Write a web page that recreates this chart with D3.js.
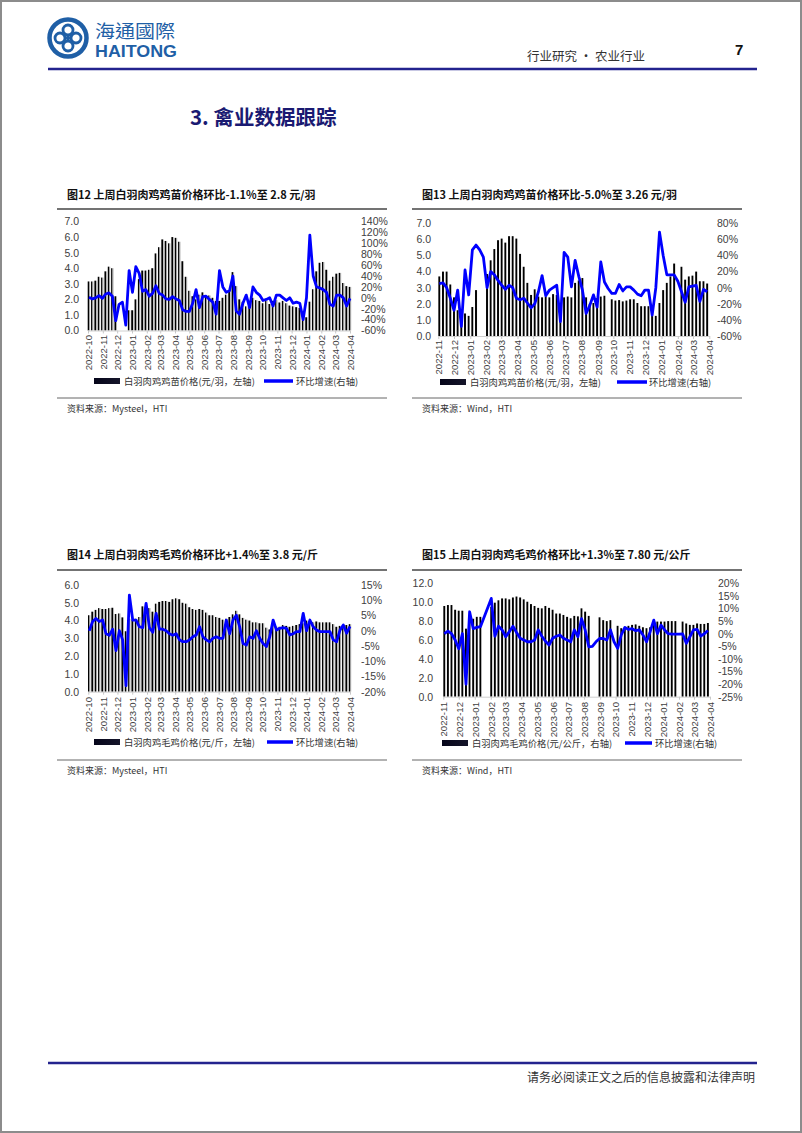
<!DOCTYPE html>
<html><head><meta charset="utf-8">
<script src="https://cdn.jsdelivr.net/npm/d3@7"></script>
<style>html,body{margin:0;padding:0;background:#fff;}svg{display:block;}</style>
</head><body>
<script>
// ---------- DATA ----------
const mysteelMonths = ["2022-10","2022-11","2022-12","2023-01","2023-02","2023-03","2023-04","2023-05","2023-06","2023-07","2023-08","2023-09","2023-10","2023-11","2023-12","2024-01","2024-02","2024-03","2024-04"];
const windMonths = ["2022-11","2022-12","2023-01","2023-02","2023-03","2023-04","2023-05","2023-06","2023-07","2023-08","2023-09","2023-10","2023-11","2023-12","2024-01","2024-02","2024-03","2024-04"];

// Fig 12 Mysteel chick price (yuan/bird) and WoW %
const chickMysteelPrice = [3.15,3.15,3.2,3.45,3.4,3.8,4.1,4.0,2.2,null,null,null,1.3,1.3,2.0,3.3,3.85,3.85,3.9,4.0,
 4.95,5.35,5.85,5.75,5.6,6.0,5.95,5.7,4.45,3.45,2.55,2.2,2.0,2.3,2.45,2.2,2.25,2.1,1.9,1.9,
 2.1,2.3,2.6,3.75,2.85,2.0,1.85,1.55,1.85,2.1,1.95,1.9,1.75,1.9,1.7,1.9,1.95,1.8,1.9,1.75,
 1.6,1.55,1.5,1.45,0.85,0.85,1.85,2.65,3.8,4.35,4.4,3.9,3.2,3.45,3.65,3.7,3.05,2.85,2.8];
const chickMysteelWoW = [1,-2,0,4,-1,7,9,3,-42,-12,-8,-50,50,10,57,45,12,15,3,8,
 22,8,5,-2,-3,2,-2,-5,-22,-25,-25,-10,15,-18,2,3,-3,-8,-30,50,
 20,10,13,40,-24,-30,-10,5,-18,20,10,5,-5,-3,0,-15,5,5,0,-5,
 0,-10,-8,-10,-40,0,115,40,20,18,15,10,-12,-15,5,5,0,-15,-1];

// Fig 13 Wind chick price and WoW %
const chickWindPrice = [3.7,4.0,4.0,3.2,2.4,1.6,1.2,1.4,1.25,1.8,2.85,null,null,3.85,4.7,5.4,5.95,6.05,5.8,6.2,
 6.2,6.05,5.1,4.3,3.3,2.55,2.9,2.45,2.4,2.45,2.4,2.6,2.55,1.95,2.4,2.45,2.4,3.3,3.45,3.6,
 2.4,2.0,2.05,2.35,2.45,2.5,null,2.28,2.2,2.23,2.15,2.2,2.28,2.28,2.05,1.85,1.85,1.85,1.25,1.25,
 2.05,2.85,3.3,3.7,4.5,null,4.3,3.5,3.7,3.75,4.0,3.4,3.4,3.26];
const chickWindWoW = [5,6,0,-13,-28,-3,-48,22,-9,47,53,47,38,0,20,16,9,3,-2,3,
 0,-13,-15,-13,-19,-25,-20,-5,15,-10,-3,0,3,-42,44,38,1,34,14,-3,
 -32,-22,-9,-24,32,7,-1,-7,-7,4,-4,1,1,-3,-8,-10,-3,-3,-34,0,
 69,40,16,16,16,8,-5,-18,1,2,3,-17,-2,-5];

// Fig 14 Mysteel broiler price (yuan/jin) and WoW %
const broilerMysteelPrice = [4.3,4.5,4.6,4.7,4.65,4.65,4.7,4.72,4.37,4.4,
 4.18,3.4,4.1,4.05,4.1,4.2,4.8,4.75,4.7,4.5,
 4.95,5.05,5.1,5.1,5.05,5.2,5.25,5.2,5.0,4.95,
 4.75,4.65,4.6,4.65,4.6,4.45,4.3,4.3,4.2,4.15,
 4.05,4.1,4.2,4.35,4.55,4.35,4.15,4.05,4.0,3.9,
 3.9,3.85,3.85,3.6,3.5,3.7,3.65,3.65,3.75,3.7,
 3.65,3.7,3.75,3.8,3.85,4.0,3.9,3.9,3.95,3.9,
 3.9,3.9,3.9,3.8,3.65,3.7,3.75,3.75,3.8];
const broilerMysteelWoW = [0,3,4,3,3.5,-1,-1.5,0.5,-6.5,0,
 -3,-18,11.7,3.5,3.5,1.3,1,9,1,-0.5,
 5.7,0.5,0.5,0,-1,-1.5,-1,-3,-3.6,-3.6,
 -3,-2,-1.4,1.3,-2,-3,-3.6,-2.5,-2,-2.5,
 -2.5,3.5,-1,3.5,5.1,1.3,-4.2,-4.7,-2,-2.5,
 0,-2.5,-4.2,-5.2,-2,3.5,0.2,0.8,1,0.8,
 -1.4,-1,-0.3,-0.3,5.7,0,3.5,1.3,0.2,-0.3,
 -0.3,-0.3,-0.3,-3,-3.6,0.2,1.9,-0.8,1.4];

// Fig 15 Wind broiler price (yuan/kg) and WoW %
const broilerWindPrice = [9.6,9.7,9.7,9.2,9.1,9.1,7.2,8.3,8.25,8.45,
 8.45,null,null,9.5,9.95,10.2,10.4,10.4,10.3,10.5,
 10.6,10.5,10.3,10.05,9.8,9.6,9.4,9.35,9.6,9.4,
 9.2,8.8,8.8,8.65,8.45,8.3,8.55,8.5,9.35,9.0,
 8.55,null,null,8.4,8.1,8.0,8.1,null,7.5,7.25,
 7.4,7.5,7.6,7.65,7.5,7.35,7.25,7.35,7.75,7.95,
 7.95,7.95,8.0,8.0,8.0,null,7.95,7.75,7.6,7.6,
 7.75,7.7,7.7,7.8];
const broilerWindWoW = [0,1,0,-2.5,-6,0,-20,8.7,2,2.5,
 2.8,null,null,14,-1,3,1.5,-1.2,0.8,3,
 0.5,-1.8,-2.5,-3.2,-3.2,-2.5,1.5,-1,-3,-4.5,
 -1.8,-1,-0.5,-1.8,-2.5,-3.2,1.5,-1.2,6,1.5,
 -5.2,-5,-3.2,-1.9,-1.9,-2.5,1.5,-3.2,-5.8,-0.5,
 2.5,1.7,2,1.2,1.5,-0.5,-3.2,0.8,5.4,0,
 3.4,1.5,0,-0.2,-0.2,-0.2,-0.1,-3.8,-1.2,1.5,
 1.7,-0.9,0,1.3];

// ---------- PAGE ----------
const W = 802, H = 1133;
const CJK = "'Noto Sans CJK SC','Noto Sans',sans-serif";
const LAT = "'Liberation Sans',Arial,sans-serif";
const NAVY = "#23238e", LOGO = "#1f5fa6";
const svg = d3.select("body").append("svg").attr("width", W).attr("height", H);
svg.append("rect").attr("x",1).attr("y",1).attr("width",W-2).attr("height",H-2)
  .attr("fill","#fff").attr("stroke","#8c8c8c").attr("stroke-width",2);

const defs = svg.append("defs");
function grad(id, stops){
  const g = defs.append("linearGradient").attr("id",id).attr("x1",0).attr("x2",1).attr("y1",0).attr("y2",0);
  stops.forEach(s=>g.append("stop").attr("offset",s[0]).attr("stop-color",s[1]));
}
grad("gMy", [[0,"#000"],[0.52,"#000"],[0.52,"#8f8f8f"],[1,"#c4c4c4"]]);
grad("gWi", [[0,"#000"],[0.7,"#000"],[1,"#555"]]);
grad("gLeg", [[0,"#05051a"],[1,"#15152a"]]);

// Header: logo
const lg = svg.append("g").attr("transform","translate(68,38)");
lg.append("circle").attr("r",18.5).attr("fill","none").attr("stroke",LOGO).attr("stroke-width",4.5);
[[0,-8],[8,0],[0,8],[-8,0]].forEach(p=>{
  lg.append("circle").attr("cx",p[0]).attr("cy",p[1]).attr("r",5).attr("fill","none").attr("stroke",LOGO).attr("stroke-width",2.8);
});
lg.append("circle").attr("r",2.2).attr("fill",LOGO);
svg.append("text").attr("x",95).attr("y",38).attr("font-family","'Noto Sans CJK TC','Noto Sans CJK SC',sans-serif")
  .attr("font-size",18).attr("fill",LOGO).attr("textLength",80).attr("lengthAdjust","spacingAndGlyphs").text("海通國際");
svg.append("text").attr("x",95).attr("y",56.5).attr("font-family",LAT).attr("font-weight","bold")
  .attr("font-size",16).attr("fill",LOGO).attr("textLength",82).attr("lengthAdjust","spacingAndGlyphs").text("HAITONG");
svg.append("text").attr("x",527).attr("y",61).attr("font-family",CJK).attr("font-size",12.5).attr("fill","#333").text("行业研究 • 农业行业");
svg.append("text").attr("x",735).attr("y",55).attr("font-family",LAT).attr("font-weight","bold").attr("font-size",15).attr("fill","#111").text("7");
svg.append("line").attr("x1",48).attr("x2",757).attr("y1",69).attr("y2",69).attr("stroke",NAVY).attr("stroke-width",2.6);

svg.append("text").attr("x",190).attr("y",125).attr("font-family",CJK).attr("font-weight","bold")
  .attr("font-size",20.5).attr("fill","#1a1a72").text("3.  禽业数据跟踪");

// Footer
svg.append("line").attr("x1",48).attr("x2",757).attr("y1",1063).attr("y2",1063).attr("stroke",NAVY).attr("stroke-width",2.6);
svg.append("text").attr("x",755).attr("y",1082).attr("text-anchor","end").attr("font-family",CJK)
  .attr("font-size",12).attr("fill","#333").text("请务必阅读正文之后的信息披露和法律声明");

// ---------- CHART ----------
const parseM = d3.utcParse("%Y-%m");
const parseD = d3.utcParse("%Y-%m-%d");

function drawChart(c){
  const g = svg.append("g");
  const months = c.months.map(parseM);
  const x = d3.scaleUtc().domain([months[0], months[months.length-1]]).range([c.x0, c.x1]);
  const yL = d3.scaleLinear().domain(c.left).range([c.yBot, c.yTop]);
  const yR = d3.scaleLinear().domain(c.right).range([c.yBot, c.yTop]);
  const start = parseD(c.start);
  const dates = c.bars.map((_,i)=>d3.utcDay.offset(start, 7*i));

  // title + rule
  g.append("text").attr("x",c.tx).attr("y",c.ty).attr("font-family",CJK).attr("font-weight","bold")
    .attr("font-size",11).attr("fill","#111").text(c.title);
  g.append("line").attr("x1",c.rx1).attr("x2",c.rx2).attr("y1",c.ry).attr("y2",c.ry).attr("stroke","#444").attr("stroke-width",1.3);

  // left axis
  const la = g.append("g").attr("transform",`translate(${c.lx},0)`)
    .call(d3.axisLeft(yL).tickValues(d3.range(c.left[0], c.left[1]+1e-9, c.lstep)).tickFormat(d3.format(".1f")).tickSize(0).tickPadding(0));
  la.select(".domain").remove();
  la.selectAll("text").attr("font-family",LAT).attr("font-size",10.5).attr("fill","#404040");
  // right axis
  const ra = g.append("g").attr("transform",`translate(${c.rxl},0)`)
    .call(d3.axisRight(yR).tickValues(d3.range(c.right[0], c.right[1]+1e-9, c.rstep)).tickFormat(d=>d+"%").tickSize(0).tickPadding(0));
  ra.select(".domain").remove();
  ra.selectAll("text").attr("font-family",LAT).attr("font-size",10.5).attr("fill","#404040");

  // bars
  const bd = dates.map((d,i)=>({d, v:c.bars[i]})).filter(o=>o.v!=null);
  g.append("g").selectAll("rect").data(bd).join("rect")
    .attr("x",o=>x(o.d)-c.bw/2).attr("y",o=>yL(o.v)).attr("width",c.bw).attr("height",o=>yL(0)-yL(o.v))
    .attr("fill",`url(#${c.grad})`);

  // x axis
  const xa = g.append("g").attr("transform",`translate(0,${c.yBot})`)
    .call(d3.axisBottom(x).tickValues(months).tickFormat((d,i)=>c.months[i]).tickSize(3).tickSizeOuter(0));
  xa.select(".domain").attr("stroke","#d0d0d0");
  xa.selectAll(".tick line").attr("stroke","#c8c8c8");
  xa.selectAll("text").attr("font-family",LAT).attr("font-size",9.6).attr("fill","#404040")
    .attr("transform","rotate(-90)").attr("text-anchor","end").attr("x",-(c.xlTop-c.yBot)).attr("y",0).attr("dy","0.35em");

  // line
  const ld = dates.map((d,i)=>({d, v:c.line[i]})).filter(o=>o.v!=null);
  g.append("path").datum(ld).attr("fill","none").attr("stroke","#0000ff").attr("stroke-width",2.8)
    .attr("stroke-linejoin","round").attr("d", d3.line().x(o=>x(o.d)).y(o=>yR(o.v)));

  // legend
  g.append("rect").attr("x",c.legRect).attr("y",c.legY-3).attr("width",26).attr("height",6).attr("fill","url(#gLeg)");
  g.append("text").attr("x",c.legT1).attr("y",c.legY+3.5).attr("font-family",CJK).attr("font-size",9.3).attr("fill","#333").text(c.leg1);
  g.append("line").attr("x1",c.legL1).attr("x2",c.legL2).attr("y1",c.legY).attr("y2",c.legY).attr("stroke","#0000ff").attr("stroke-width",3.5);
  g.append("text").attr("x",c.legT2).attr("y",c.legY+3.5).attr("font-family",CJK).attr("font-size",9.3).attr("fill","#333").text(c.leg2);

  // source
  g.append("line").attr("x1",c.rx1).attr("x2",c.rx2).attr("y1",c.sy).attr("y2",c.sy).attr("stroke","#555").attr("stroke-width",0.9);
  g.append("text").attr("x",c.tx).attr("y",c.sy+14).attr("font-family",CJK).attr("font-size",9).attr("fill","#333").text(c.source);
}

drawChart({months:mysteelMonths, x0:88, x1:350, yTop:221.5, yBot:330.5, left:[0,7], lstep:1, right:[-60,140], rstep:20,
  lx:79, rxl:361, xlTop:335, start:"2022-10-03", bars:chickMysteelPrice, line:chickMysteelWoW, bw:2.5, grad:"gMy",
  title:"图12 上周白羽肉鸡鸡苗价格环比-1.1%至 2.8 元/羽", tx:67, ty:199, rx1:57, rx2:387, ry:209,
  legY:381, legRect:94, legT1:124, legL1:264, legL2:293, legT2:296, leg1:"白羽肉鸡鸡苗价格(元/羽，左轴)", leg2:"环比增速(右轴)",
  sy:398, source:"资料来源：Mysteel，HTI"});

drawChart({months:windMonths, x0:438.3, x1:709.3, yTop:223.3, yBot:336, left:[0,7], lstep:1, right:[-60,80], rstep:20,
  lx:431, rxl:717, xlTop:340, start:"2022-11-03", bars:chickWindPrice, line:chickWindWoW, bw:2.0, grad:"gWi",
  title:"图13 上周白羽肉鸡鸡苗价格环比-5.0%至 3.26 元/羽", tx:422, ty:199, rx1:412, rx2:742, ry:209,
  legY:382, legRect:440, legT1:470, legL1:617, legL2:647, legT2:649, leg1:"白羽肉鸡鸡苗价格(元/羽，左轴)", leg2:"环比增速(右轴)",
  sy:398, source:"资料来源：Wind，HTI"});

drawChart({months:mysteelMonths, x0:88.3, x1:350, yTop:585, yBot:691.7, left:[0,6], lstep:1, right:[-20,15], rstep:5,
  lx:79, rxl:361, xlTop:697, start:"2022-10-03", bars:broilerMysteelPrice, line:broilerMysteelWoW, bw:2.5, grad:"gMy",
  title:"图14 上周白羽肉鸡毛鸡价格环比+1.4%至 3.8 元/斤", tx:67, ty:559, rx1:57, rx2:387, ry:570,
  legY:742, legRect:94, legT1:124, legL1:267, legL2:293, legT2:296, leg1:"白羽肉鸡毛鸡价格(元/斤，左轴)", leg2:"环比增速(右轴)",
  sy:760, source:"资料来源：Mysteel，HTI"});

drawChart({months:windMonths, x0:443.3, x1:710, yTop:583.3, yBot:696.7, left:[0,12], lstep:2, right:[-25,20], rstep:5,
  lx:433, rxl:718, xlTop:702, start:"2022-11-03", bars:broilerWindPrice, line:broilerWindWoW, bw:2.0, grad:"gWi",
  title:"图15 上周白羽肉鸡毛鸡价格环比+1.3%至 7.80 元/公斤", tx:422, ty:559, rx1:412, rx2:742, ry:570,
  legY:743, legRect:442, legT1:472, legL1:625, legL2:652, legT2:655, leg1:"白羽肉鸡毛鸡价格(元/公斤，右轴)", leg2:"环比增速(右轴)",
  sy:760, source:"资料来源：Wind，HTI"});
</script>
</body></html>
